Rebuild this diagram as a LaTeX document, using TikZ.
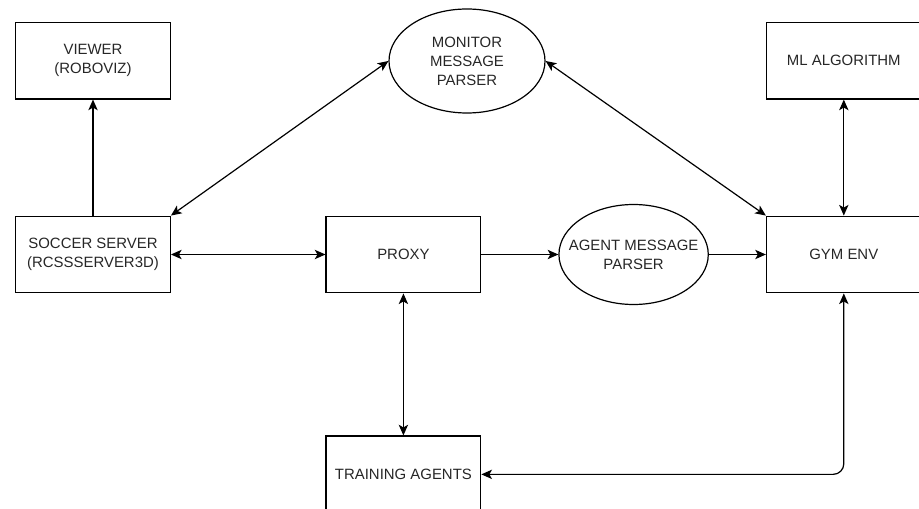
\documentclass[tikz,border=0pt]{standalone}
\usepackage{fontspec}
\setmainfont{Liberation Sans}
\usetikzlibrary{arrows.meta,positioning,shapes.geometric}

\begin{document}
\begin{tikzpicture}[x=0.75pt,y=-0.75pt,node distance=87pt,
  every node/.style={font=\fontsize{11.2}{14.2}\selectfont,align=center,text=black!85},
  box/.style={draw,line width=0.9pt,minimum width=116pt,minimum height=57.5pt,inner sep=2pt},
  parser/.style={draw,ellipse,line width=0.9pt,inner ysep=0pt},
  link/.style={line width=0.9pt,-{Stealth[length=8pt,width=7pt,inset=2pt]}},
  both/.style={line width=0.9pt,{Stealth[length=8pt,width=7pt,inset=2pt]}-{Stealth[length=8pt,width=7pt,inset=2pt]}}]
\clip (0,0) rectangle (919,509);
\node[box] (soccer) at (93,254.5) {SOCCER SERVER\\(RCSSSERVER3D)};
\node[box,above=of soccer] (viewer) {VIEWER\\(ROBOVIZ)};
\node[box,right=115.9pt of soccer] (proxy) {PROXY};
\node[parser,inner xsep=-9pt,minimum width=112pt,minimum height=75pt,right=57.75pt of proxy] (agent) {AGENT MESSAGE\\PARSER};
\node[box,right=42.75pt of agent] (gym) {GYM ENV};
\node[box,above=of gym] (ml) {ML ALGORITHM};
\node[box,below=106.5pt of proxy] (training) {TRAINING AGENTS};
\node[parser,inner xsep=0pt,minimum width=117pt,minimum height=78pt] (monitor) at (467,61) {MONITOR\\MESSAGE\\PARSER};
\draw[link] (soccer) -- (viewer);
\draw[both] (soccer.north east) -- (monitor.west);
\draw[both] (monitor.east) -- (gym.north west);
\draw[both] (ml) -- (gym);
\draw[both] (soccer) -- (proxy);
\draw[link] (proxy) -- (agent);
\draw[link] (agent) -- (gym);
\draw[both] (proxy) -- (training);
\draw[both,rounded corners=8pt] (gym.south) |- (training.east);
\end{tikzpicture}
\end{document}
